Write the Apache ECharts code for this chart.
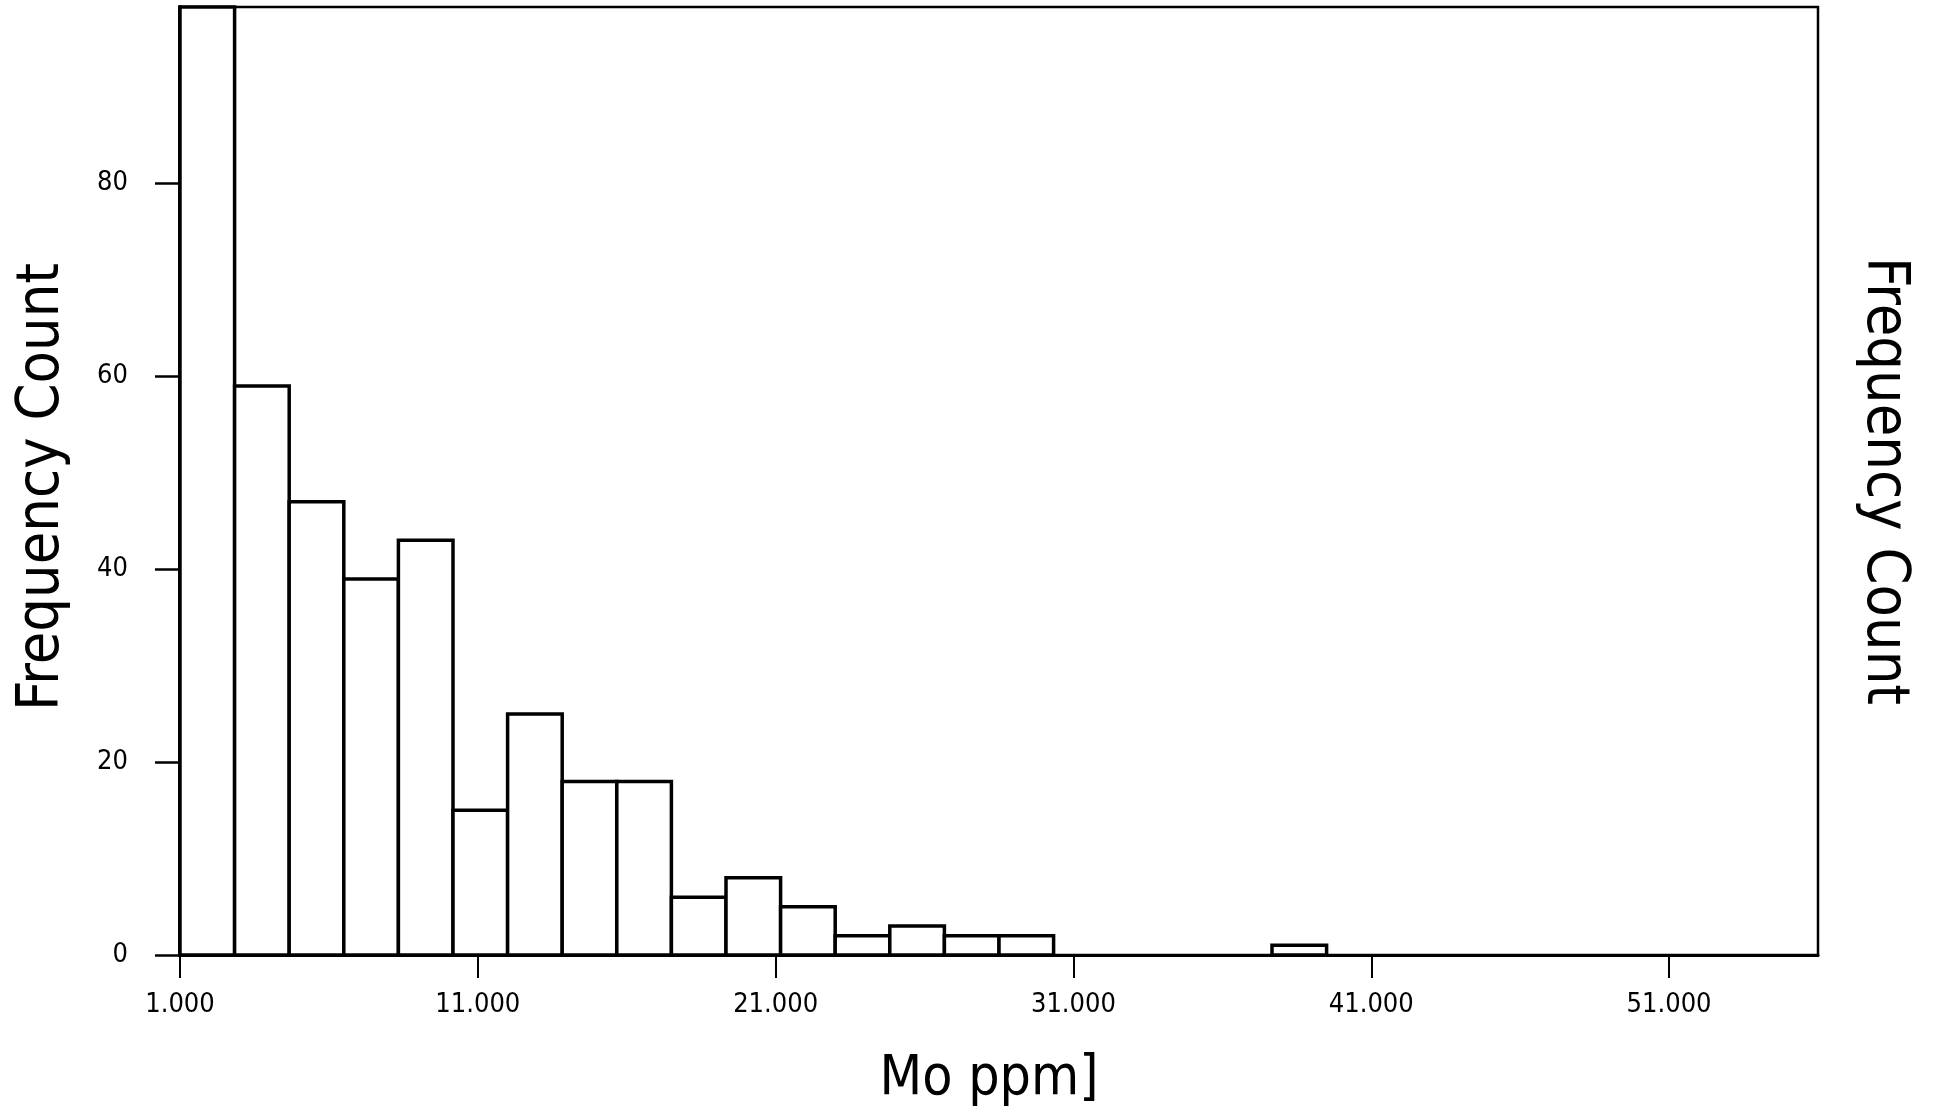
<!DOCTYPE html>
<html>
<head>
<meta charset="utf-8">
<script src="https://cdn.jsdelivr.net/npm/echarts@6/dist/echarts.min.js"></script>
<style>
html,body{margin:0;padding:0;background:#fff;}
#chart{width:1942px;height:1113px;}
</style>
</head>
<body>
<div id="chart"></div>
<script>
// Histogram of Mo ppm: 30 bins spanning 1 to 56
const binStart = 1;
const binEnd = 56;
const binCount = 30;
// first bin runs off the top of the plot (value not readable)
const counts = [110, 59, 47, 39, 43, 15, 25, 18, 18, 6, 8, 5, 2, 3, 2, 2, 0, 0, 0, 0, 1, 0, 0, 0, 0, 0, 0, 0, 0, 0];
const xTickValues = [1, 11, 21, 31, 41, 51];
const xTickLabels = ['1.000', '11.000', '21.000', '31.000', '41.000', '51.000'];
const yTickValues = [0, 20, 40, 60, 80];
const yTickLabels = ['0', '20', '40', '60', '80'];
const yMax = 98.3;
const xName = 'Mo ppm]';
const yName = 'Frequency Count';

const binWidth = (binEnd - binStart) / binCount;
const barData = counts.map((c, i) => [binStart + i * binWidth, binStart + (i + 1) * binWidth, c]);

const tickFont = {fontFamily: 'DejaVu Sans Condensed, DejaVu Sans', fontSize: 27, color: '#000'};
const nameFont = {fontFamily: 'DejaVu Sans Condensed, DejaVu Sans', color: '#000'};

const chart = echarts.init(document.getElementById('chart'), null, {renderer: 'canvas'});
chart.setOption({
  animation: false,
  backgroundColor: '#fff',
  grid: {left: 180, right: 124, top: 7, bottom: 158, show: true, borderColor: '#000', borderWidth: 2.5, backgroundColor: 'transparent'},
  xAxis: {
    type: 'value', min: binStart, max: binEnd,
    name: xName, nameLocation: 'middle', nameGap: 97,
    nameTextStyle: Object.assign({fontSize: 55, padding: [0, 20, 0, 0]}, nameFont),
    axisLine: {show: true, onZero: false, lineStyle: {color: '#000', width: 3}},
    axisTick: {show: true, inside: false, length: 23, customValues: xTickValues, lineStyle: {color: '#000', width: 2}},
    axisLabel: Object.assign({margin: 36, customValues: xTickValues,
      formatter: v => { const k = xTickValues.indexOf(v); return k >= 0 ? xTickLabels[k] : ''; }}, tickFont),
    splitLine: {show: false}
  },
  yAxis: [{
    type: 'value', min: 0, max: yMax, position: 'left',
    name: yName, nameLocation: 'middle', nameGap: 108, nameRotate: 90,
    nameTextStyle: Object.assign({fontSize: 59, padding: [0, 12, 0, 0]}, nameFont),
    axisLine: {show: true, lineStyle: {color: '#000', width: 4}},
    axisTick: {show: true, inside: false, length: 25, customValues: yTickValues, lineStyle: {color: '#000', width: 2.5}},
    axisLabel: Object.assign({margin: 52, customValues: yTickValues,
      formatter: v => { const k = yTickValues.indexOf(v); return k >= 0 ? yTickLabels[k] : ''; }}, tickFont),
    splitLine: {show: false}
  }, {
    type: 'value', min: 0, max: yMax, position: 'right',
    name: yName, nameLocation: 'middle', nameGap: 36, nameRotate: -90,
    nameTextStyle: Object.assign({fontSize: 59}, nameFont),
    axisLine: {show: false}, axisTick: {show: false}, axisLabel: {show: false}, splitLine: {show: false}
  }],
  series: [{
    type: 'custom',
    data: barData,
    encode: {x: [0, 1], y: 2},
    renderItem: function (params, api) {
      const c = api.value(2);
      if (!c) return null;
      const p0 = api.coord([api.value(0), 0]);
      const p1 = api.coord([api.value(1), c]);
      const cs = params.coordSys;
      const rect = echarts.graphic.clipRectByRect(
        {x: p0[0], y: p1[1], width: p1[0] - p0[0], height: p0[1] - p1[1]},
        {x: cs.x, y: cs.y, width: cs.width, height: cs.height}
      );
      if (!rect) return null;
      return {type: 'rect', shape: rect, style: {fill: '#fff', stroke: '#000', lineWidth: 3.5}};
    }
  }]
});
</script>
</body>
</html>
